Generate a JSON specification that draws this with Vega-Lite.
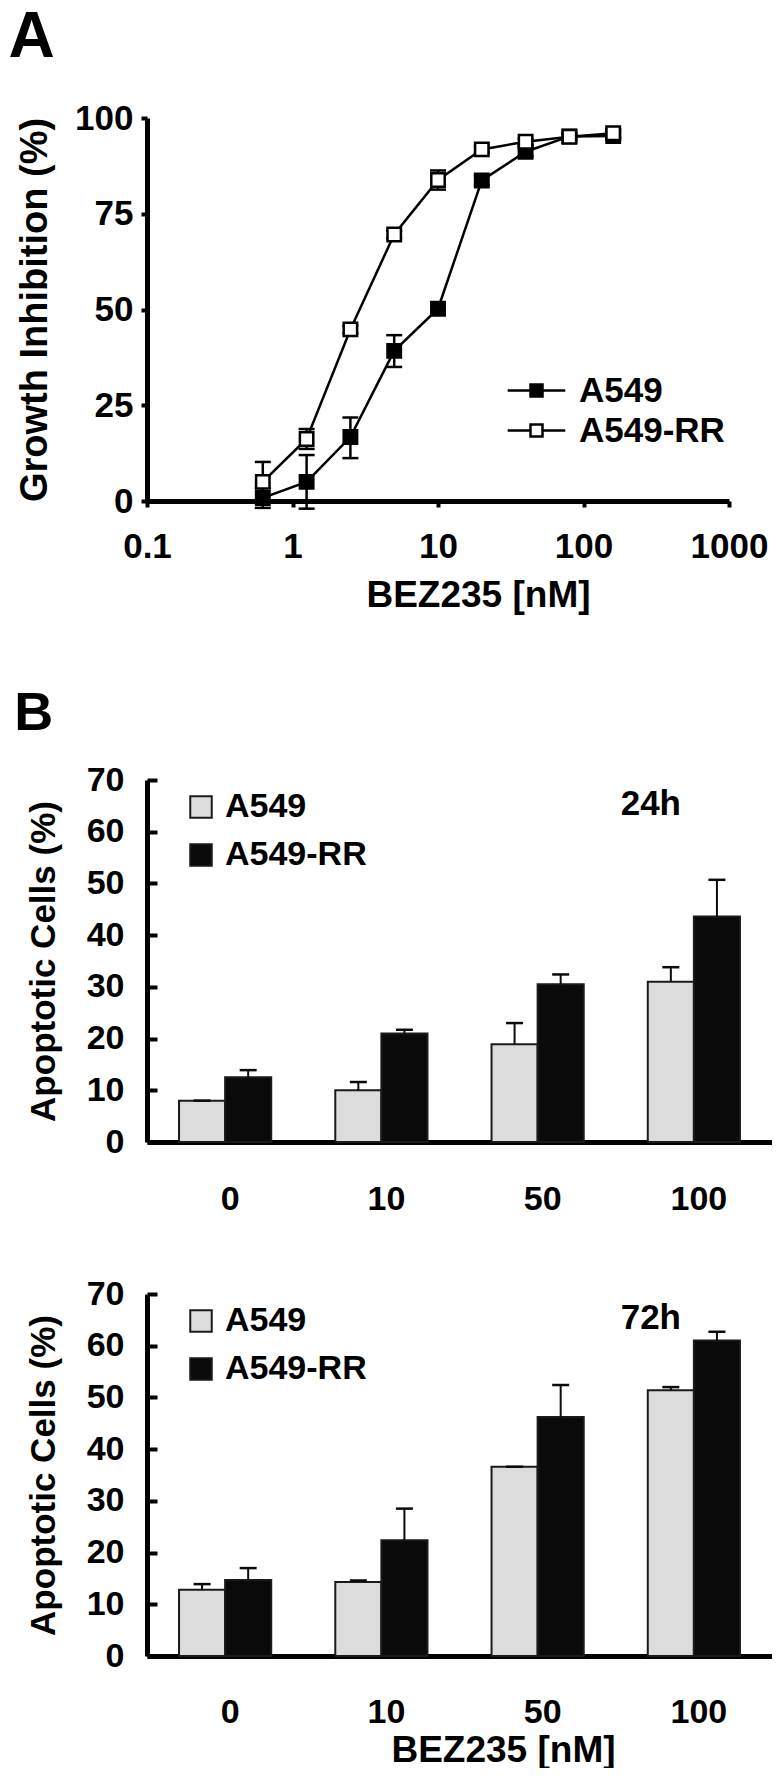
{
  "$schema": "https://vega.github.io/schema/vega-lite/v6.json",
  "padding": {"left": 8, "top": 6, "right": 0, "bottom": 0},
  "background": "white",
  "datasets": {
    "growth": [
      {"line": "A549", "conc": 0.625, "value": 0.8, "lo": -1.8, "hi": 3.4},
      {"line": "A549", "conc": 1.25, "value": 5.0, "lo": -2.0, "hi": 12.0},
      {"line": "A549", "conc": 2.5, "value": 16.7, "lo": 11.2, "hi": 21.8},
      {"line": "A549", "conc": 5, "value": 39.2, "lo": 35.0, "hi": 43.3},
      {"line": "A549", "conc": 10, "value": 50.2, "lo": 48.8, "hi": 51.5},
      {"line": "A549", "conc": 20, "value": 83.7, "lo": 82.5, "hi": 85.0},
      {"line": "A549", "conc": 40, "value": 91.2, "lo": 90.0, "hi": 92.5},
      {"line": "A549", "conc": 80, "value": 95.2, "lo": 94.5, "hi": 96.0},
      {"line": "A549", "conc": 160, "value": 95.3, "lo": 94.5, "hi": 96.2},
      {"line": "A549-RR", "conc": 0.625, "value": 5.0, "lo": -0.1, "hi": 10.2},
      {"line": "A549-RR", "conc": 1.25, "value": 16.2, "lo": 13.6, "hi": 18.8},
      {"line": "A549-RR", "conc": 2.5, "value": 44.8, "lo": 43.8, "hi": 45.8},
      {"line": "A549-RR", "conc": 5, "value": 69.6, "lo": 68.6, "hi": 70.6},
      {"line": "A549-RR", "conc": 10, "value": 83.8, "lo": 81.3, "hi": 86.3},
      {"line": "A549-RR", "conc": 20, "value": 91.8, "lo": 91.0, "hi": 92.6},
      {"line": "A549-RR", "conc": 40, "value": 93.8, "lo": 93.0, "hi": 94.6},
      {"line": "A549-RR", "conc": 80, "value": 95.1, "lo": 94.4, "hi": 95.8},
      {"line": "A549-RR", "conc": 160, "value": 96.0, "lo": 95.0, "hi": 97.0}
    ],
    "apop": [
      {"time": "24h", "dose": "0", "line": "A549", "value": 8.0, "hi": 8.0},
      {"time": "24h", "dose": "0", "line": "A549-RR", "value": 12.5, "hi": 13.9},
      {"time": "24h", "dose": "10", "line": "A549", "value": 10.0, "hi": 11.6},
      {"time": "24h", "dose": "10", "line": "A549-RR", "value": 21.0, "hi": 21.7},
      {"time": "24h", "dose": "50", "line": "A549", "value": 18.9, "hi": 23.0},
      {"time": "24h", "dose": "50", "line": "A549-RR", "value": 30.5, "hi": 32.4},
      {"time": "24h", "dose": "100", "line": "A549", "value": 31.0, "hi": 33.8},
      {"time": "24h", "dose": "100", "line": "A549-RR", "value": 43.6, "hi": 50.7},
      {"time": "72h", "dose": "0", "line": "A549", "value": 12.8, "hi": 13.9},
      {"time": "72h", "dose": "0", "line": "A549-RR", "value": 14.7, "hi": 17.0},
      {"time": "72h", "dose": "10", "line": "A549", "value": 14.3, "hi": 14.6},
      {"time": "72h", "dose": "10", "line": "A549-RR", "value": 22.4, "hi": 28.5},
      {"time": "72h", "dose": "50", "line": "A549", "value": 36.6, "hi": 36.6},
      {"time": "72h", "dose": "50", "line": "A549-RR", "value": 46.2, "hi": 52.4},
      {"time": "72h", "dose": "100", "line": "A549", "value": 51.4, "hi": 52.0},
      {"time": "72h", "dose": "100", "line": "A549-RR", "value": 61.0, "hi": 62.7}
    ]
  },
  "spacing": 74,
  "resolve": {"scale": {"fill": "independent"}, "legend": {"fill": "independent"}},
  "vconcat": [
    {
      "title": {"text": "A", "fontSize": 64, "anchor": "start", "frame": "bounds", "dx": -8, "offset": 31},
      "vconcat": [
        {
          "width": 582,
          "height": 383,
          "data": {"name": "growth"},
          "encoding": {
            "x": {
              "field": "conc", "type": "quantitative",
              "scale": {"type": "log", "domain": [0.1, 1000]},
              "axis": {
                "values": [0.1, 1, 10, 100, 1000], "format": "~g",
                "title": "BEZ235 [nM]",
                "domainWidth": 5, "tickSize": 6, "tickWidth": 4,
                "labelPadding": 50, "labelBaseline": "alphabetic",
                "labelFontSize": 35, "titleFontSize": 37,
                "labelFlush": false, "labelOverlap": false,
                "titleX": 331, "titleY": 105, "titleBaseline": "alphabetic"
              }
            }
          },
          "layer": [
            {
              "mark": {"type": "rule", "color": "black", "strokeWidth": 2.5, "clip": false},
              "encoding": {
                "y": {"field": "lo", "type": "quantitative", "title": "Growth Inhibition (%)", "scale": {"domain": [0, 100]}},
                "y2": {"field": "hi"}
              }
            },
            {
              "mark": {"type": "tick", "orient": "horizontal", "size": 16, "thickness": 2.5, "color": "black", "opacity": 1},
              "encoding": {"y": {"field": "lo", "type": "quantitative", "title": "Growth Inhibition (%)"}}
            },
            {
              "mark": {"type": "tick", "orient": "horizontal", "size": 16, "thickness": 2.5, "color": "black", "opacity": 1},
              "encoding": {"y": {"field": "hi", "type": "quantitative", "title": "Growth Inhibition (%)"}}
            },
            {
              "mark": {"type": "line", "color": "black", "strokeWidth": 2.5},
              "encoding": {
                "y": {
                  "field": "value", "type": "quantitative",
                  "title": "Growth Inhibition (%)",
                  "axis": {
                    "values": [0, 25, 50, 75, 100],
                    "domainWidth": 5, "tickSize": 6, "tickWidth": 4,
                    "labelPadding": 8, "labelFontSize": 35, "titleFontSize": 38,
                    "titlePadding": 20
                  }
                },
                "detail": {"field": "line"}
              }
            },
            {
              "mark": {"type": "point", "shape": "square", "size": 180, "stroke": "black", "strokeWidth": 2.5, "opacity": 1},
              "encoding": {
                "y": {"field": "value", "type": "quantitative", "title": "Growth Inhibition (%)"},
                "fill": {
                  "field": "line", "type": "nominal",
                  "scale": {"domain": ["A549", "A549-RR"], "range": ["black", "white"]},
                  "legend": {
                    "orient": "none", "legendX": 372, "legendY": 255,
                    "title": null, "padding": 0,
                    "symbolType": "M-2.4,0H-0.5M0.5,0H2.4M-0.5,-0.5H0.5V0.5H-0.5Z",
                    "symbolSize": 576, "symbolStrokeColor": "black", "symbolStrokeWidth": 2.5,
                    "symbolOpacity": 1,
                    "labelFontSize": 35, "labelOffset": 25, "rowPadding": 4, "labelLimit": 400
                  }
                }
              }
            }
          ]
        }
      ]
    },
    {
      "title": {"text": "B", "fontSize": 54, "anchor": "start", "frame": "bounds", "dx": -12, "offset": 22},
      "spacing": 61,
      "resolve": {"scale": {"fill": "independent"}, "legend": {"fill": "independent"}},
      "vconcat": [
        {
          "width": 625,
          "height": 362,
          "title": {"text": "24h", "fontSize": 35, "anchor": "end", "frame": "group", "dx": -91, "dy": 87, "offset": 0, "baseline": "alphabetic"},
          "data": {"name": "apop"},
          "transform": [{"filter": "datum.time == '24h'"}],
          "encoding": {
            "x": {
              "field": "dose", "type": "nominal", "sort": ["0", "10", "50", "100"],
              "scale": {"paddingInner": 0.41, "paddingOuter": 0.205},
              "axis": {
                "title": null, "labelAngle": 0, "ticks": false, "domainWidth": 5,
                "labelPadding": 67, "labelBaseline": "alphabetic", "labelFontSize": 34, "labelOffset": 5
              }
            },
            "xOffset": {"field": "line", "type": "nominal", "sort": ["A549", "A549-RR"]}
          },
          "layer": [
            {
              "mark": {"type": "bar", "stroke": "#1a1a1a", "strokeWidth": 2},
              "encoding": {
                "y": {
                  "field": "value", "type": "quantitative", "title": "Apoptotic Cells (%)",
                  "scale": {"domain": [0, 70]},
                  "axis": {
                    "values": [0, 10, 20, 30, 40, 50, 60, 70],
                    "domainWidth": 5, "tickSize": -10, "tickWidth": 4,
                    "labelPadding": 33, "labelFontSize": 34, "titleFontSize": 35, "titlePadding": 25
                  }
                },
                "fill": {
                  "field": "line", "type": "nominal",
                  "scale": {"domain": ["A549", "A549-RR"], "range": ["#dcdcdc", "#0a0a0a"]},
                  "legend": {
                    "orient": "none", "legendX": 37, "legendY": 10, "title": null, "padding": 0,
                    "symbolType": "square", "symbolSize": 462, "symbolStrokeColor": "#1a1a1a", "symbolStrokeWidth": 2,
                    "symbolOpacity": 1, "labelFontSize": 34, "labelOffset": 7, "rowPadding": 14, "labelLimit": 400
                  }
                }
              }
            },
            {
              "mark": {"type": "rule", "color": "#0a0a0a", "strokeWidth": 2},
              "encoding": {
                "y": {"field": "value", "type": "quantitative", "title": "Apoptotic Cells (%)"},
                "y2": {"field": "hi"}
              }
            },
            {
              "mark": {"type": "tick", "orient": "horizontal", "size": 17, "thickness": 2.5, "color": "#0a0a0a", "opacity": 1},
              "encoding": {"y": {"field": "hi", "type": "quantitative", "title": "Apoptotic Cells (%)"}}
            }
          ]
        },
        {
          "width": 625,
          "height": 362,
          "title": {"text": "72h", "fontSize": 35, "anchor": "end", "frame": "group", "dx": -91, "dy": 87, "offset": 0, "baseline": "alphabetic"},
          "data": {"name": "apop"},
          "transform": [{"filter": "datum.time == '72h'"}],
          "encoding": {
            "x": {
              "field": "dose", "type": "nominal", "sort": ["0", "10", "50", "100"],
              "scale": {"paddingInner": 0.41, "paddingOuter": 0.205},
              "axis": {
                "title": "BEZ235 [nM]", "labelAngle": 0, "ticks": false, "domainWidth": 5,
                "labelPadding": 66, "labelBaseline": "alphabetic", "labelFontSize": 34, "labelOffset": 5,
                "titleFontSize": 37, "titleX": 356, "titleY": 105, "titleBaseline": "alphabetic"
              }
            },
            "xOffset": {"field": "line", "type": "nominal", "sort": ["A549", "A549-RR"]}
          },
          "layer": [
            {
              "mark": {"type": "bar", "stroke": "#1a1a1a", "strokeWidth": 2},
              "encoding": {
                "y": {
                  "field": "value", "type": "quantitative", "title": "Apoptotic Cells (%)",
                  "scale": {"domain": [0, 70]},
                  "axis": {
                    "values": [0, 10, 20, 30, 40, 50, 60, 70],
                    "domainWidth": 5, "tickSize": -10, "tickWidth": 4,
                    "labelPadding": 33, "labelFontSize": 34, "titleFontSize": 35, "titlePadding": 25
                  }
                },
                "fill": {
                  "field": "line", "type": "nominal",
                  "scale": {"domain": ["A549", "A549-RR"], "range": ["#dcdcdc", "#0a0a0a"]},
                  "legend": {
                    "orient": "none", "legendX": 37, "legendY": 10, "title": null, "padding": 0,
                    "symbolType": "square", "symbolSize": 462, "symbolStrokeColor": "#1a1a1a", "symbolStrokeWidth": 2,
                    "symbolOpacity": 1, "labelFontSize": 34, "labelOffset": 7, "rowPadding": 14, "labelLimit": 400
                  }
                }
              }
            },
            {
              "mark": {"type": "rule", "color": "#0a0a0a", "strokeWidth": 2},
              "encoding": {
                "y": {"field": "value", "type": "quantitative", "title": "Apoptotic Cells (%)"},
                "y2": {"field": "hi"}
              }
            },
            {
              "mark": {"type": "tick", "orient": "horizontal", "size": 17, "thickness": 2.5, "color": "#0a0a0a", "opacity": 1},
              "encoding": {"y": {"field": "hi", "type": "quantitative", "title": "Apoptotic Cells (%)"}}
            }
          ]
        }
      ]
    }
  ],
  "config": {
    "view": {"stroke": null},
    "font": "Liberation Sans",
    "axis": {
      "labelFont": "Liberation Sans", "titleFont": "Liberation Sans",
      "labelFontWeight": "bold", "titleFontWeight": "bold",
      "domainColor": "#000", "tickColor": "#000", "labelColor": "#000", "titleColor": "#000",
      "grid": false
    },
    "legend": {"labelFont": "Liberation Sans", "labelFontWeight": "bold", "labelColor": "#000"},
    "title": {"font": "Liberation Sans", "fontWeight": "bold", "color": "#000"}
  }
}
